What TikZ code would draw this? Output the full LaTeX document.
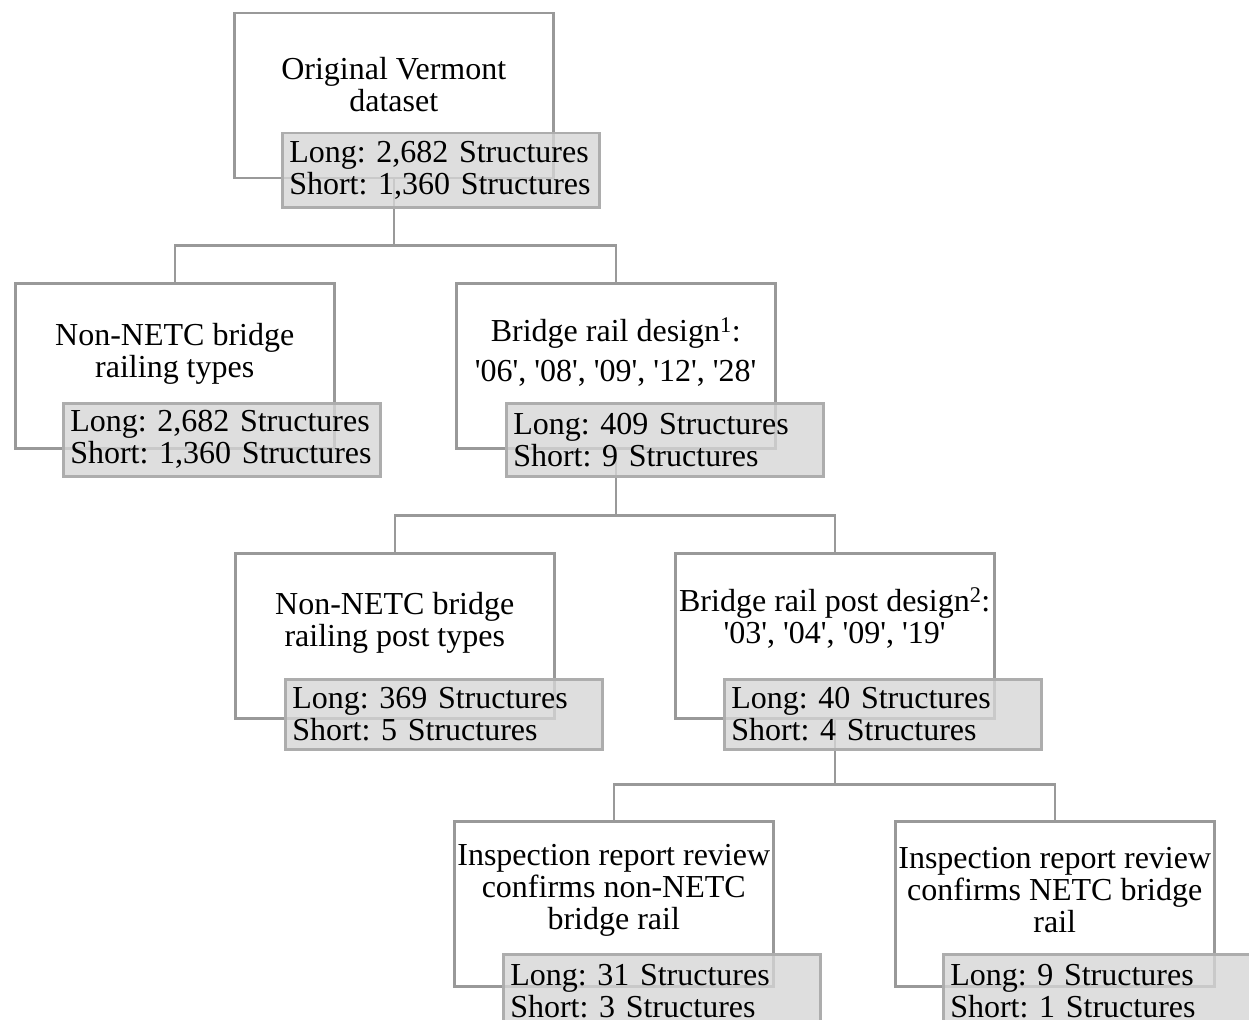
\documentclass[tikz,border=0pt]{standalone}
\usepackage{fontspec}
\setmainfont{Liberation Serif}
\usepackage{tikz}
\usetikzlibrary{calc}
\frenchspacing

\definecolor{boxgray}{gray}{0.6}
\definecolor{countgray}{gray}{0.84}
\newcommand{\qt}[1]{\textquotesingle#1\textquotesingle}

\begin{document}
\begin{tikzpicture}[x=1pt,y=-1pt,
  wbox/.style={draw=boxgray,line width=2.5pt,fill=white,anchor=north west,minimum width=319pt,minimum height=165pt,inner sep=0pt},
  gbox/.style={draw=boxgray!80,line width=2.5pt,fill=countgray,fill opacity=0.8,text opacity=1,anchor=north west,minimum width=317pt,minimum height=73pt,text width=303pt,inner xsep=7pt,inner ysep=0pt,align=left,font=\fontsize{32}{32}\selectfont},
  wtext/.style={align=center,font=\fontsize{32}{32}\selectfont,inner sep=0pt},
  link/.style={draw=boxgray,line width=2.5pt}]

\path[use as bounding box,clip](0,0) rectangle (1249,1019);

\node[wbox] (orig) at (233,12) {};
\node[wbox] (nonrail) at (14,282) {};
\node[wbox] (rail) at (455,282) {};
\node[wbox] (nonpost) at (234,552) {};
\node[wbox] (post) at (674,552) {};
\node[wbox] (insnon) at (453,820) {};
\node[wbox] (insnetc) at (894,820) {};

\node[wtext] (orig-t) at ($(orig.north)+(0,73)$) {Original Vermont\\dataset};
\node[wtext] (nonrail-t) at ($(nonrail.north)+(0,72)$) {Non-NETC bridge\\railing types};
\node[wtext] (rail-t) at ($(rail.north)+(0,70)$) {Bridge rail design\textsuperscript{1}:\\[8pt]\qt{06}, \qt{08}, \qt{09}, \qt{12}, \qt{28}};
\node[wtext] (nonpost-t) at ($(nonpost.north)+(0,71)$) {Non-NETC bridge\\railing post types};
\node[wtext] (post-t) at ($(post.north)+(0,66)$) {Bridge rail post design\textsuperscript{2}:\\\qt{03}, \qt{04}, \qt{09}, \qt{19}};
\node[wtext] (insnon-t) at ($(insnon.north)+(0,70)$) {Inspection report review\\confirms non-NETC\\bridge rail};
\node[wtext] (insnetc-t) at ($(insnetc.north)+(0,70)$) {Inspection report review\\confirms NETC bridge\\rail};

\coordinate (j1) at ($(orig.south)+(0,66)$);
\coordinate (j2) at ($(rail.south)+(0,66)$);
\coordinate (j3) at ($(post.south)+(0,65)$);
\draw[link](orig.south)--(j1)-|(nonrail.north);
\draw[link](j1)-|(rail.north);
\draw[link](rail.south)--(j2)-|(nonpost.north);
\draw[link](j2)-|(post.north);
\draw[link](post.south)--(j3)-|(insnon.north);
\draw[link](j3)-|(insnetc.north);

\node[gbox,minimum height=74pt] (orig-n) at (281,132) {Long: 2,682 Structures\\Short: 1,360 Structures};
\node[gbox] (nonrail-n) at (62,402) {Long: 2,682 Structures\\Short: 1,360 Structures};
\node[gbox] (rail-n) at (505,402) {Long: 409 Structures\\Short: 9 Structures};
\node[gbox,minimum height=70pt] (nonpost-n) at (284,678) {Long: 369 Structures\\Short: 5 Structures};
\node[gbox,minimum height=70pt] (post-n) at (723,678) {Long: 40 Structures\\Short: 4 Structures};
\node[gbox] (insnon-n) at (502,953) {Long: 31 Structures\\Short: 3 Structures};
\node[gbox] (insnetc-n) at (942,953) {Long: 9 Structures\\Short: 1 Structures};

\end{tikzpicture}
\end{document}
